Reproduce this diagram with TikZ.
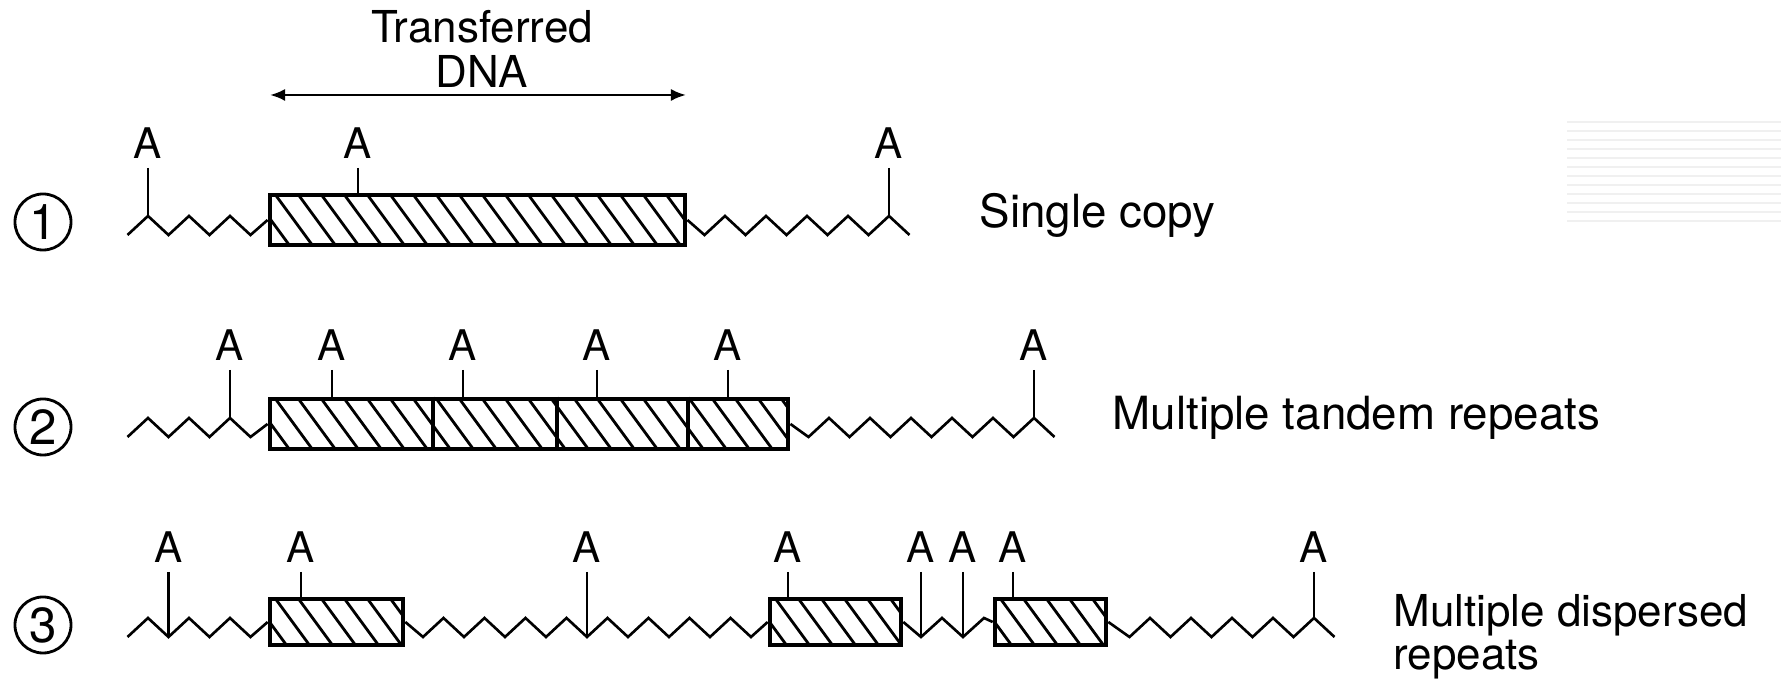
\documentclass[tikz,border=0pt]{standalone}
\usepackage{fontspec}
\setmainfont{TeX Gyre Heros}
\usetikzlibrary{arrows.meta}

\tikzset{
  dnabox/.style={draw, line width=1.3pt, inner sep=0pt, path picture={
      \foreach \k in {0,...,25}
        \draw[line width=0.8pt] (path picture bounding box.north west) ++(\k*23-44,-5) -- ++(44,60);
    }},
  strand/.style={line width=0.75pt, line join=miter},
  site/.style={inner sep=0pt, outer sep=2.5pt, font=\fontsize{12}{12}\selectfont},
  stem/.style={line width=0.6pt},
  num/.style={circle, draw, line width=0.8pt, minimum size=0.56cm, inner sep=0pt, font=\fontsize{14}{14}\selectfont},
  caption/.style={inner sep=0pt, font=\fontsize{13}{12}\selectfont},
  span/.style={{Latex[length=0.15cm,width=0.12cm]}-{Latex[length=0.15cm,width=0.12cm]}, line width=0.7pt}
}

\begin{document}
\begin{tikzpicture}[x=0.01cm, y=-0.01cm]
    \useasboundingbox (0,0) rectangle (1781,680);

    % faint stripes at the right edge
    \foreach \y in {122,131,...,222}
        \draw[gray!12, line width=0.5pt] (1567,\y) -- (1781,\y);

    % Transferred DNA
    \node[caption, anchor=north, align=center, font=\fontsize{12.5}{12.8}\selectfont] (dna) at (482,10) {Transferred\\DNA};
    \coordinate (tl) at (270,95);
    \coordinate (tr) at (686,95);
    \draw[span] (tl) -- (tr);

    % levels of the zigzag
    \coordinate (pk1) at (0,216);
    \coordinate (pk2) at (0,418);
    \coordinate (pk3) at (0,618);
    \coordinate (tr3) at (0,637);

    % row 1: single copy
    \node[num] (n1) at (43,222) {1};
    \node[dnabox, minimum width=4.15cm, minimum height=0.50cm] (b11) at (477.5,220) {};
    \draw[strand] (127.5,235) -- (148,216) -- (168.5,235) -- (189,216) -- (209.5,235) -- (230,216) -- (250.5,235) -- (b11.west);
    \draw[strand] (b11.east) -- (704.5,235) -- (725,216) -- (745.5,235) -- (766,216) -- (786.5,235) -- (807,216) -- (827.5,235) -- (848,216) -- (868.5,235) -- (889,216) -- (909.5,235);
    \node[site, anchor=base] (a11) at (148,159) {A};
    \node[site, anchor=base] (a12) at (358,159) {A};
    \node[site, anchor=base] (a13) at (889,159) {A};
    \draw[stem] (a11.south) -- (a11.south |- pk1);
    \draw[stem] (a12.south) -- (a12.south |- b11.north);
    \draw[stem] (a13.south) -- (a13.south |- pk1);
    \node[caption, anchor=base west] (l1) at (979,228) {Single copy};

    % row 2: tandem repeats
    \node[num] (n2) at (43,427) {2};
    \node[dnabox, minimum width=5.18cm, minimum height=0.50cm] (b2) at (529,424) {};
    \coordinate (d1) at (433,424);
    \coordinate (d2) at (557,424);
    \coordinate (d3) at (688,424);
    \draw[line width=1.3pt] (d1 |- b2.north) -- (d1 |- b2.south);
    \draw[line width=1.3pt] (d2 |- b2.north) -- (d2 |- b2.south);
    \draw[line width=1.3pt] (d3 |- b2.north) -- (d3 |- b2.south);
    \draw[strand] (127.5,437) -- (148,418) -- (168.5,437) -- (189,418) -- (209.5,437) -- (230,418) -- (250.5,437) -- (b2.west);
    \draw[strand] (b2.east) -- (808.5,437) -- (829,418) -- (849.5,437) -- (870,418) -- (890.5,437) -- (911,418) -- (931.5,437) -- (952,418) -- (972.5,437) -- (993,418) -- (1013.5,437) -- (1034,418) -- (1054.5,437);
    \node[site, anchor=base] (a21) at (230,361) {A};
    \node[site, anchor=base] (a22) at (332,361) {A};
    \node[site, anchor=base] (a23) at (463,361) {A};
    \node[site, anchor=base] (a24) at (597,361) {A};
    \node[site, anchor=base] (a25) at (728,361) {A};
    \node[site, anchor=base] (a26) at (1034,361) {A};
    \draw[stem] (a21.south) -- (a21.south |- pk2);
    \draw[stem] (a22.south) -- (a22.south |- b2.north);
    \draw[stem] (a23.south) -- (a23.south |- b2.north);
    \draw[stem] (a24.south) -- (a24.south |- b2.north);
    \draw[stem] (a25.south) -- (a25.south |- b2.north);
    \draw[stem] (a26.south) -- (a26.south |- pk2);
    \node[caption, anchor=base west] (l2) at (1112,430) {Multiple tandem repeats};

    % row 3: dispersed repeats
    \node[num] (n3) at (43,625) {3};
    \node[dnabox, minimum width=1.33cm, minimum height=0.46cm] (b31) at (336.5,622) {};
    \node[dnabox, minimum width=1.31cm, minimum height=0.46cm] (b32) at (835.5,622) {};
    \node[dnabox, minimum width=1.11cm, minimum height=0.46cm] (b33) at (1050.5,622) {};
    \draw[strand] (127.5,637) -- (148,618) -- (168.5,637) -- (189,618) -- (209.5,637) -- (230,618) -- (250.5,637) -- (b31.west);
    \draw[strand] (b31.east) -- (423,637) -- (443.5,618) -- (464,637) -- (484.5,618) -- (505,637) -- (525.5,618) -- (546,637) -- (566.5,618) -- (587,637) -- (607.5,618) -- (628,637) -- (648.5,618) -- (669,637) -- (689.5,618) -- (710,637) -- (730.5,618) -- (751,637) -- (b32.west);
    \draw[strand] (b32.east) -- (921,637) -- (942,618) -- (963,637) -- (984,618) -- (b33.west);
    \draw[strand] (b33.east) -- (1129.5,637) -- (1150,618) -- (1170.5,637) -- (1191,618) -- (1211.5,637) -- (1232,618) -- (1252.5,637) -- (1273,618) -- (1293.5,637) -- (1314,618) -- (1334.5,637);
    \node[site, anchor=base] (a31) at (168.5,563) {A};
    \node[site, anchor=base] (a32) at (301,563) {A};
    \node[site, anchor=base] (a33) at (587,563) {A};
    \node[site, anchor=base] (a34) at (788,563) {A};
    \node[site, anchor=base] (a35) at (921,563) {A};
    \node[site, anchor=base] (a36) at (963,563) {A};
    \node[site, anchor=base] (a37) at (1013,563) {A};
    \node[site, anchor=base] (a38) at (1314,563) {A};
    \draw[stem] (a31.south) -- (a31.south |- tr3);
    \draw[stem] (a32.south) -- (a32.south |- b31.north);
    \draw[stem] (a33.south) -- (a33.south |- tr3);
    \draw[stem] (a34.south) -- (a34.south |- b32.north);
    \draw[stem] (a35.south) -- (a35.south |- tr3);
    \draw[stem] (a36.south) -- (a36.south |- tr3);
    \draw[stem] (a37.south) -- (a37.south |- b33.north);
    \draw[stem] (a38.south) -- (a38.south |- pk3);
    \node[caption, anchor=north west, align=left, font=\fontsize{12.5}{10.5}\selectfont] (l3) at (1393,594) {Multiple dispersed\\repeats};

\end{tikzpicture}
\end{document}
